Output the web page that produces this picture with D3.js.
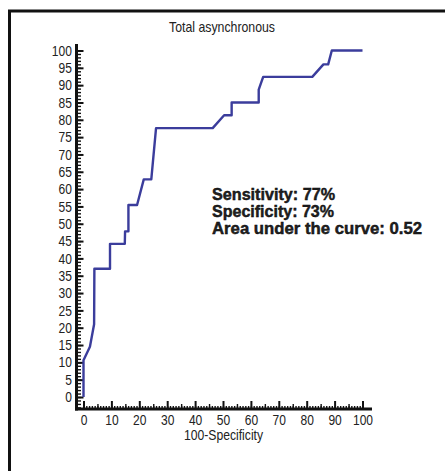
<!DOCTYPE html>
<html>
<head>
<meta charset="utf-8">
<script src="https://cdn.jsdelivr.net/npm/d3@7"></script>
<style>
  body { margin: 0; background: #fff; }
  svg { display: block; }
  text { font-family: "Liberation Sans", Arial, sans-serif; fill: #222; }
</style>
</head>
<body>
<svg width="445" height="471"></svg>
<script>
// ROC curve points (100-Specificity, Sensitivity)
const fpr = [0, 0, 2.3, 3.8, 3.9, 9.5, 9.5, 14.8, 14.9, 16.1, 16.1, 19.2, 21.6, 24.3, 26, 46.3, 50.4, 53.1, 53.1, 62.8, 62.8, 64.4, 82, 86, 87.7, 89, 100];
const tpr = [0, 10.6, 14.5, 21, 37, 37, 44.2, 44.2, 47.8, 47.8, 55.4, 55.4, 62.8, 62.8, 77.6, 77.6, 81.3, 81.3, 85, 85, 88.7, 92.4, 92.4, 96, 96, 100, 100];

// Tick labels
const xTicks = [0, 10, 20, 30, 40, 50, 60, 70, 80, 90, 100];
const yTicks = [0, 5, 10, 15, 20, 25, 30, 35, 40, 45, 50, 55, 60, 65, 70, 75, 80, 85, 90, 95, 100];

// Text
const title = "Total asynchronous";
const xTitle = "100-Specificity";
const notes = ["Sensitivity: 77%", "Specificity: 73%", "Area under the curve: 0.52"];

const svg = d3.select("svg");
const narrow = 0.83; // the original uses a condensed face

// outer frame (top and left edges visible)
svg.append("path")
    .attr("d", "M9.5,471 V11 H445")
    .attr("fill", "none")
    .attr("stroke", "#111")
    .attr("stroke-width", 3);

// scales
const x = d3.scaleLinear().domain([0, 100]).range([83.5, 362.5]);
const y = d3.scaleLinear().domain([0, 100]).range([397, 50.5]);

const axisX = 76.5;   // y axis position
const axisY = 409;    // x axis position

// y axis ticks (inside, to the right)
svg.append("g")
    .attr("transform", `translate(${axisX},0)`)
    .call(d3.axisRight(y).tickValues(d3.range(-3, 101)).tickSize(4.5).tickFormat(""))
    .call(g => g.select(".domain").remove())
    .call(g => g.selectAll("line").attr("stroke", "#111").attr("stroke-width", 1.4));

svg.append("g")
    .attr("transform", `translate(${axisX},0)`)
    .call(d3.axisRight(y).tickValues(yTicks).tickSize(7).tickFormat(""))
    .call(g => g.select(".domain").remove())
    .call(g => g.selectAll("line").attr("stroke", "#111").attr("stroke-width", 2));

// y labels
svg.append("g")
    .attr("transform", `translate(${axisX},0)`)
    .call(d3.axisLeft(y).tickValues(yTicks).tickSize(0).tickPadding(5.5))
    .call(g => g.select(".domain").remove())
    .call(g => g.selectAll("text")
        .attr("font-size", 14.5)
        .attr("font-family", "'Liberation Sans', Arial, sans-serif")
        .attr("fill", "#222")
        .attr("transform", `scale(${narrow},1)`));

// x axis ticks (upwards)
svg.append("g")
    .attr("transform", `translate(0,${axisY})`)
    .call(d3.axisTop(x).tickValues(d3.range(0, 101)).tickSize(3).tickFormat(""))
    .call(g => g.select(".domain").remove())
    .call(g => g.selectAll("line").attr("stroke", "#111").attr("stroke-width", 1.4));

svg.append("g")
    .attr("transform", `translate(0,${axisY})`)
    .call(d3.axisTop(x).tickValues(d3.range(5, 101, 10)).tickSize(5).tickFormat(""))
    .call(g => g.select(".domain").remove())
    .call(g => g.selectAll("line").attr("stroke", "#111").attr("stroke-width", 1.4));

svg.append("g")
    .attr("transform", `translate(0,${axisY})`)
    .call(d3.axisTop(x).tickValues(xTicks).tickSize(8).tickFormat(""))
    .call(g => g.select(".domain").remove())
    .call(g => g.selectAll("line").attr("stroke", "#111").attr("stroke-width", 2));

// x labels
svg.append("g")
    .attr("transform", `translate(0,${axisY})`)
    .call(d3.axisBottom(x).tickValues(xTicks).tickSize(0).tickPadding(6))
    .call(g => g.select(".domain").remove())
    .call(g => g.selectAll("text")
        .attr("font-size", 14.5)
        .attr("font-family", "'Liberation Sans', Arial, sans-serif")
        .attr("fill", "#222")
        .attr("transform", `scale(${narrow},1)`));

// axis lines
svg.append("line")
    .attr("x1", axisX).attr("x2", axisX)
    .attr("y1", 44).attr("y2", axisY + 1.5)
    .attr("stroke", "#111").attr("stroke-width", 3);
svg.append("line")
    .attr("x1", axisX - 1.5).attr("x2", 372)
    .attr("y1", axisY).attr("y2", axisY)
    .attr("stroke", "#111").attr("stroke-width", 3);

// ROC line
const pts = fpr.map((d, i) => [d, tpr[i]]);
svg.append("path")
    .datum(pts)
    .attr("d", d3.line().x(d => x(d[0])).y(d => y(d[1])))
    .attr("fill", "none")
    .attr("stroke", "#3b3d9c")
    .attr("stroke-width", 2.4)
    .attr("stroke-linejoin", "round");

// titles
svg.append("text")
    .attr("transform", "translate(222,32) scale(0.88,1)")
    .attr("text-anchor", "middle")
    .attr("font-size", 14)
    .text(title);

svg.append("text")
    .attr("transform", "translate(223.5,440) scale(0.87,1)")
    .attr("text-anchor", "middle")
    .attr("font-size", 14)
    .text(xTitle);

// annotation block
const noteWidths = [123, 122, 210];
svg.selectAll(".note")
    .data(notes)
    .enter()
    .append("text")
    .attr("class", "note")
    .attr("x", 212)
    .attr("y", (d, i) => 199.5 + i * 17)
    .attr("font-size", 16)
    .attr("font-weight", "bold")
    .attr("fill", "#000")
    .attr("stroke", "#000")
    .attr("stroke-width", 0.4)
    .attr("textLength", (d, i) => noteWidths[i])
    .attr("lengthAdjust", "spacingAndGlyphs")
    .text(d => d);
</script>
</body>
</html>
